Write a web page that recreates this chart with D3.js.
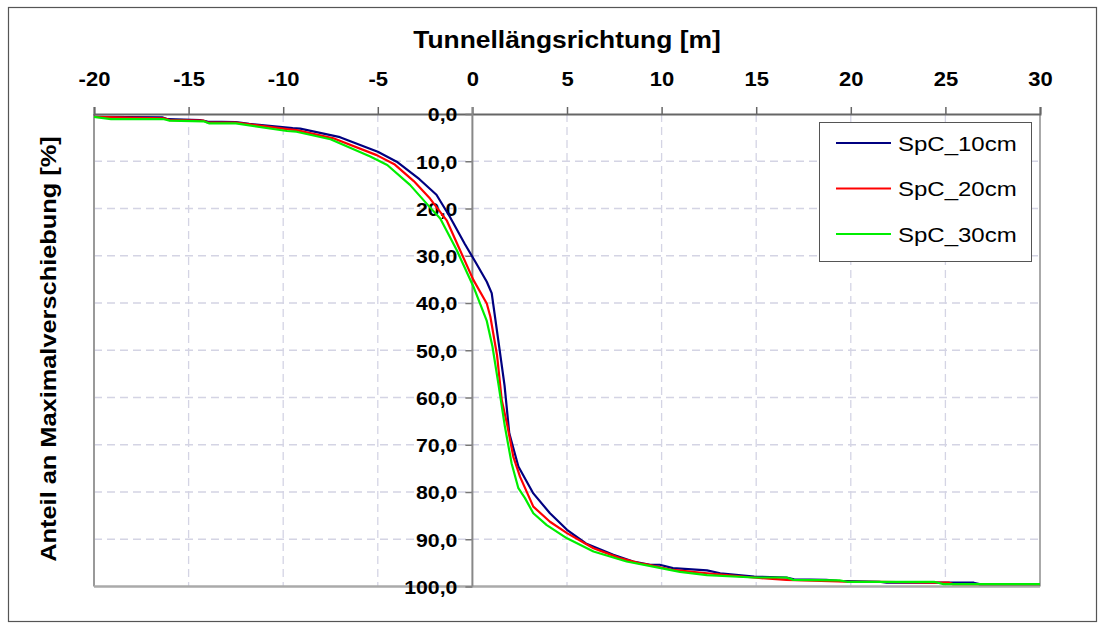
<!DOCTYPE html>
<html><head><meta charset="utf-8">
<script src="https://cdn.jsdelivr.net/npm/d3@7/dist/d3.min.js"></script>
<style>body{margin:0;background:#fff}svg{display:block}</style>
</head><body>
<svg id="chart" width="1103" height="630"></svg>
<script>
const seriesNames = ["SpC_10cm", "SpC_20cm", "SpC_30cm"];
const seriesColors = ["#000080", "#ff0000", "#00ee00"];
const xTicks = [-20, -15, -10, -5, 0, 5, 10, 15, 20, 25, 30];
const yTicks = [0, 10, 20, 30, 40, 50, 60, 70, 80, 90, 100];

const x10 = [-20,-16.4,-16.1,-14.4,-14.0,-12.5,-11.8,-9.5,-9.1,-7.0,-5.0,-4.0,-2.8,-1.9,-1.2,-0.4,0.2,0.76,1.02,1.4,1.7,1.95,2.43,3.22,4.1,5.0,6.0,7.45,8.5,9.4,9.9,10.6,12.4,13.1,14.9,16.6,17.0,18.7,19.3,21.5,21.9,26.5,26.8,30];
const y10 = [0.6,0.7,1.1,1.3,1.6,1.7,2.1,3.0,3.1,4.9,8.0,10.1,13.8,17.1,21.7,27.5,31.6,35.5,37.9,48.8,57.5,67.6,74.6,80.3,84.5,88.0,90.9,93.3,94.7,95.4,95.4,96.1,96.6,97.2,97.9,98.1,98.5,98.6,98.8,99.0,99.2,99.2,99.5,99.5];

const x20 = [-20,-16.3,-16.0,-14.2,-14.0,-12.5,-9.8,-9.3,-7.35,-5.06,-4.1,-3.1,-2.24,-1.36,-0.7,0.05,0.76,0.95,1.3,1.55,1.85,2.16,2.52,3.22,4.1,5.0,6.4,7.8,8.86,9.2,10.6,12.4,14.85,16.6,19.8,21.5,24.4,25.2,25.4,30];
const y20 = [0.6,0.9,1.3,1.4,1.8,1.8,3.2,3.4,5.15,8.7,10.7,14.2,17.9,22.5,28.4,35.1,40.1,42.9,51.0,60.5,66.0,72.5,76.8,83.1,86.3,88.7,91.9,94.0,95.1,95.3,96.5,97.2,98.1,98.6,99.0,99.0,99.2,99.2,99.5,99.5];

const x30 = [-20,-19.1,-16.3,-16.0,-14.2,-13.9,-12.5,-9.8,-9.3,-7.5,-5.4,-4.5,-3.3,-2.3,-1.7,-0.83,0.05,0.76,1.06,1.37,1.72,2.07,2.43,2.78,3.22,3.93,5.0,6.4,8.15,9.56,10.97,12.4,14.85,16.6,16.96,19.4,19.8,24.4,24.9,30];
const y30 = [0.6,1.1,1.1,1.4,1.55,2.0,2.0,3.6,3.75,5.35,9.0,10.8,15.0,19.5,22.1,28.8,36.5,43.8,49.2,57.0,66.2,73.9,79.2,81.3,84.5,87.0,89.8,92.6,94.7,95.8,96.9,97.6,98.1,98.1,98.6,98.7,99.0,99.0,99.5,99.5];

const xTitle = "Tunnellängsrichtung [m]";
const yTitle = "Anteil an Maximalverschiebung [%]";

const seriesX = [x10, x20, x30];
const seriesY = [y10, y20, y30];

const svg = d3.select("#chart");
const FONT = "'Liberation Sans', Arial, sans-serif";

// outer frame
svg.append("rect").attr("x", 8.5).attr("y", 7.5).attr("width", 1088).attr("height", 614)
  .attr("fill", "#fff").attr("stroke", "#555").attr("stroke-width", 1.2);

const x = d3.scaleLinear().domain([-20, 30]).range([94, 1040]);
const y = d3.scaleLinear().domain([0, 100]).range([114, 586.5]);

// grid
const grid = svg.append("g");
grid.selectAll(".vg").data(xTicks.filter(v => v !== -20 && v !== 30 && v !== 0)).enter()
  .append("line").attr("x1", d => x(d)).attr("x2", d => x(d)).attr("y1", y(0)).attr("y2", y(100))
  .attr("stroke", "#d4d4e4").attr("stroke-width", 1.3).attr("stroke-dasharray", "8,5");
grid.selectAll(".hg").data(yTicks.filter(v => v !== 0 && v !== 100)).enter()
  .append("line").attr("x1", x(-20)).attr("x2", x(30)).attr("y1", d => y(d)).attr("y2", d => y(d))
  .attr("stroke", "#d4d4e4").attr("stroke-width", 1.3).attr("stroke-dasharray", "8,5");

// plot borders
svg.append("line").attr("x1", x(-20)).attr("x2", x(-20)).attr("y1", y(0)).attr("y2", y(100)).attr("stroke", "#999").attr("stroke-width", 2);
svg.append("line").attr("x1", x(30)).attr("x2", x(30)).attr("y1", y(0)).attr("y2", y(100)).attr("stroke", "#aaa").attr("stroke-width", 2);
svg.append("line").attr("x1", x(-20)).attr("x2", x(30)).attr("y1", y(100)).attr("y2", y(100)).attr("stroke", "#aaa").attr("stroke-width", 2.5);

// x axis (top)
const fmtX = v => String(v);  // plain hyphen-minus as in the reference
const xAxis = d3.axisTop(x).tickValues(xTicks).tickSize(7).tickFormat(fmtX);
const gx = svg.append("g").attr("transform", `translate(0,${y(0)})`).call(xAxis);
gx.select(".domain").attr("stroke", "#666").attr("stroke-width", 2);
gx.selectAll(".tick line").attr("stroke", "#666").attr("stroke-width", 1.5);
gx.selectAll(".tick text").attr("y", 0).attr("dy", 0)
  .attr("transform", `translate(0,-28) scale(1.1,1)`)
  .attr("font-family", FONT).attr("font-weight", "bold").attr("font-size", 20).attr("fill", "#000");

// y axis at x = 0
const fmtY = v => d3.format(".1f")(v).replace(".", ",");
const yAxis = d3.axisLeft(y).tickValues(yTicks).tickSize(7).tickFormat(fmtY);
const gy = svg.append("g").attr("transform", `translate(${x(0)},0)`).call(yAxis);
gy.select(".domain").remove();
gy.selectAll(".tick line").attr("stroke", "#777").attr("stroke-width", 1.5);
gy.selectAll(".tick text").attr("x", 0).attr("dy", "0.36em")
  .attr("transform", `translate(-15,0) scale(1.12,1)`)
  .attr("font-family", FONT).attr("font-weight", "bold").attr("font-size", 19).attr("fill", "#000");
svg.append("line").attr("x1", x(0)).attr("x2", x(0)).attr("y1", y(0) - 7).attr("y2", y(100)).attr("stroke", "#888").attr("stroke-width", 2);

// series
const line = d3.line().x(d => x(d[0])).y(d => y(d[1]));
seriesNames.forEach((n, i) => {
  const pts = seriesX[i].map((v, j) => [v, seriesY[i][j]]);
  svg.append("path").datum(pts).attr("d", line).attr("fill", "none")
    .attr("stroke", seriesColors[i]).attr("stroke-width", 2.2).attr("stroke-linejoin", "round");
});

// titles
svg.append("text").attr("transform", `translate(567,48) scale(1.1,1)`).attr("text-anchor", "middle")
  .attr("font-family", FONT).attr("font-weight", "bold").attr("font-size", 24).text(xTitle);
svg.append("text").attr("transform", `translate(56,349) rotate(-90) scale(1.18,1)`).attr("text-anchor", "middle")
  .attr("font-family", FONT).attr("font-weight", "bold").attr("font-size", 21.5).text(yTitle);

// legend
const lg = svg.append("g");
lg.append("rect").attr("x", 819.5).attr("y", 122.5).attr("width", 212).attr("height", 139)
  .attr("fill", "#fff").attr("stroke", "#555").attr("stroke-width", 1);
seriesNames.forEach((n, i) => {
  const yy = 143 + i * 45.5;
  lg.append("line").attr("x1", 836).attr("x2", 891).attr("y1", yy).attr("y2", yy)
    .attr("stroke", seriesColors[i]).attr("stroke-width", 2);
  lg.append("text").attr("transform", `translate(898,${yy + 7.5}) scale(1.2,1)`)
    .attr("font-family", FONT).attr("font-size", 20).attr("fill", "#000").text(n);
});
</script>
</body></html>
